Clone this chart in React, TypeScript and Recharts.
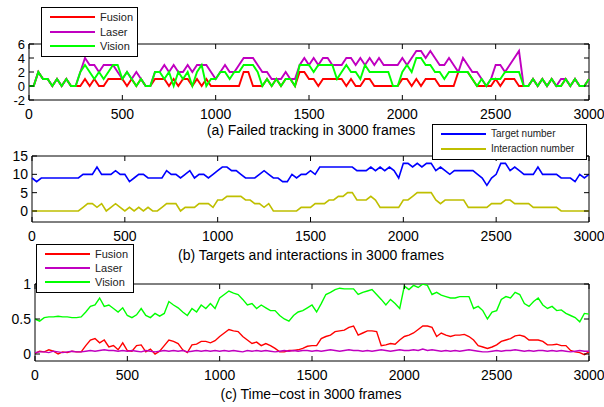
import { LineChart, Line, XAxis, YAxis, ReferenceArea } from 'recharts'

// frame index every 25 frames, 0..3000
const FRAMES = Array.from({ length: 121 }, (_, i) => i * 25)
const X_TICKS = [0, 500, 1000, 1500, 2000, 2500, 3000]

// (a) failed tracking
const failFusion = [
  0, 0, 2, 1, 1, 0, 1, 0, 1, 0,
  0, 0, 1, 0, 1, 0, 0, 1, 1, 1,
  1, 0, 1, 0, 1, 0, 0, 1, 1, 1,
  0, 1, 0, 1, 1, 0, 1, 0, 1, 0,
  0, 0, 0, 0, 0, 0, 2, 2, 0, 0,
  0, 1, 0, 1, 0, 1, 1, 0, 2, 2,
  1, 1, 0, 1, 1, 1, 1, 1, 0, 1,
  0, 0, 1, 1, 0, 0, 0, 0, 0, 0,
  1, 1, 0, 1, 0, 1, 1, 1, 0, 0,
  0, 0, 2, 2, 2, 1, 0, 0, 0, 0,
  1, 0, 1, 1, 1, 0, 0, 0, 1, 0,
  1, 0, 1, 0, 0, 1, 0, 1, 0, 0,
  1,
]
const failLaser = [
  0, 0, 2, 1, 1, 0, 1, 0, 1, 0,
  0, 2, 4, 3, 3, 2, 3, 3, 3, 2,
  1, 2, 1, 2, 1, 0, 0, 2, 2, 3,
  2, 3, 2, 2, 3, 2, 3, 3, 3, 2,
  1, 2, 3, 2, 2, 3, 4, 4, 4, 3,
  2, 2, 1, 1, 1, 2, 1, 1, 3, 4,
  3, 4, 3, 4, 4, 3, 3, 3, 4, 4,
  3, 4, 3, 4, 3, 4, 3, 3, 3, 3,
  4, 3, 4, 5, 5, 4, 5, 4, 3, 3,
  4, 3, 2, 4, 3, 2, 2, 1, 0, 1,
  3, 3, 2, 3, 4, 5, 0, 0, 1, 0,
  1, 0, 1, 0, 1, 1, 0, 1, 0, 0,
  1,
]
const failVision = [
  0, 0, 2, 1, 1, 0, 1, 0, 1, 0,
  0, 2, 3, 2, 1, 2, 1, 2, 3, 3,
  1, 2, 1, 0, 1, 0, 0, 2, 2, 1,
  2, 0, 2, 1, 2, 0, 2, 3, 0, 1,
  1, 2, 2, 1, 2, 2, 3, 3, 3, 2,
  0, 1, 0, 1, 0, 1, 1, 0, 3, 3,
  3, 2, 3, 3, 3, 3, 1, 2, 3, 2,
  2, 1, 3, 2, 2, 2, 2, 2, 0, 0,
  2, 3, 2, 4, 4, 3, 3, 2, 2, 1,
  2, 2, 2, 2, 2, 1, 0, 1, 0, 1,
  1, 1, 2, 2, 2, 2, 0, 0, 1, 0,
  1, 0, 1, 0, 0, 1, 0, 1, 0, 0,
  1,
]

// (b) targets and interactions
const targetCount = [
  9, 8, 9, 9, 9, 9, 9, 9, 9, 9,
  9, 10, 10, 10, 12, 10, 10, 10, 11, 10,
  10, 8, 9, 10, 10, 9, 9, 9, 9, 11,
  10, 10, 9, 10, 11, 9, 10, 10, 9, 10,
  11, 12, 12, 11, 11, 10, 9, 9, 9, 10,
  11, 10, 9, 9, 8, 8, 10, 9, 10, 10,
  11, 10, 12, 12, 12, 12, 12, 12, 12, 12,
  11, 11, 11, 12, 11, 12, 11, 12, 11, 9,
  13, 13, 12, 13, 12, 13, 13, 11, 12, 11,
  10, 11, 11, 11, 11, 11, 10, 9, 7, 9,
  10, 13, 13, 11, 12, 11, 10, 10, 10, 12,
  10, 10, 10, 10, 9, 9, 9, 8, 10, 9,
  10,
]
const interactionCount = [
  0, 0, 0, 0, 0, 0, 0, 0, 0, 0,
  0, 1, 2, 2, 1, 2, 0, 1, 2, 1,
  0, 1, 0, 1, 0, 1, 0, 0, 1, 2,
  2, 2, 0, 1, 1, 1, 2, 2, 2, 1,
  3, 3, 4, 4, 4, 4, 3, 3, 2, 2,
  1, 2, 0, 0, 0, 0, 0, 0, 1, 1,
  1, 2, 2, 2, 3, 3, 4, 4, 5, 5,
  3, 3, 3, 4, 3, 1, 1, 1, 1, 1,
  3, 3, 4, 5, 5, 5, 5, 3, 2, 3,
  3, 3, 3, 3, 1, 1, 1, 1, 1, 2,
  2, 2, 3, 3, 2, 2, 2, 2, 1, 1,
  1, 1, 1, 1, 0, 0, 0, 0, 0, 0,
  0,
]

// (c) time cost
const costFusion = [
  0.01, 0.04, 0.03, 0.06, 0.04, 0, 0.03, 0.02, 0.04, 0.03,
  0.03, 0.12, 0.2, 0.22, 0.16, 0.2, 0.1, 0.12, 0.06, 0.16,
  0.05, 0.04, 0.12, 0.13, 0.03, 0.07, 0, 0.04, 0.12, 0.2,
  0.18, 0.15, 0.06, 0.02, 0.13, 0.14, 0.18, 0.18, 0.16, 0.19,
  0.25, 0.3, 0.35, 0.33, 0.32, 0.25, 0.2, 0.15, 0.17, 0.12,
  0.15, 0.12, 0.08, 0.03, 0.03, 0.05, 0.05, 0.06, 0.08, 0.11,
  0.12, 0.12, 0.22, 0.25, 0.27, 0.32, 0.33, 0.34, 0.38, 0.4,
  0.27, 0.3, 0.33, 0.33, 0.32, 0.12, 0.13, 0.15, 0.14, 0.2,
  0.25, 0.27, 0.3, 0.35, 0.4, 0.4, 0.38, 0.25, 0.3, 0.27,
  0.25, 0.27, 0.27, 0.28, 0.25, 0.2, 0.12, 0.1, 0.08, 0.1,
  0.13, 0.18, 0.2, 0.22, 0.26, 0.27, 0.25, 0.2, 0.2, 0.2,
  0.18, 0.13, 0.13, 0.14, 0.12, 0.12, 0.05, 0.03, 0.02, -0.01,
  0.03,
]
const costLaser = [
  0.02, 0.03, 0.03, 0.02, 0.04, 0.03, 0.02, 0.03, 0.04, 0.03,
  0.03, 0.04, 0.05, 0.04, 0.05, 0.06, 0.05, 0.05, 0.04, 0.05,
  0.04, 0.05, 0.04, 0.03, 0.05, 0.04, 0.03, 0.04, 0.05, 0.04,
  0.05, 0.04, 0.05, 0.03, 0.04, 0.05, 0.04, 0.05, 0.04, 0.05,
  0.04, 0.05, 0.04, 0.05, 0.04, 0.03, 0.05, 0.04, 0.05, 0.04,
  0.05, 0.04, 0.03, 0.04, 0.05, 0.04, 0.05, 0.04, 0.05, 0.05,
  0.04, 0.05, 0.04, 0.05, 0.06, 0.05, 0.04, 0.05, 0.06, 0.05,
  0.05, 0.04, 0.05, 0.04, 0.05, 0.06, 0.05, 0.04, 0.05, 0.06,
  0.05, 0.05, 0.06, 0.05, 0.07, 0.05, 0.06, 0.05, 0.04, 0.05,
  0.04, 0.05, 0.04, 0.05, 0.06, 0.05, 0.04, 0.03, 0.03, 0.04,
  0.05, 0.04, 0.05, 0.05, 0.06, 0.05, 0.04, 0.05, 0.04, 0.05,
  0.05, 0.04, 0.05, 0.04, 0.05, 0.04, 0.03, 0.04, 0.05, 0.04,
  0.04,
]
const costVision = [
  0.5, 0.47, 0.52, 0.53, 0.53, 0.54, 0.53, 0.53, 0.52, 0.52,
  0.53, 0.6, 0.68, 0.7, 0.8, 0.68, 0.7, 0.65, 0.6, 0.66,
  0.55, 0.52, 0.56, 0.65, 0.55, 0.52, 0.58, 0.54, 0.58, 0.75,
  0.7, 0.66, 0.6, 0.55, 0.65, 0.6, 0.7, 0.65, 0.72, 0.65,
  0.8, 0.85, 0.9, 0.87, 0.85, 0.78, 0.7, 0.72, 0.65, 0.7,
  0.66, 0.62, 0.62, 0.55, 0.5, 0.47, 0.55, 0.6, 0.62, 0.66,
  0.7, 0.6, 0.72, 0.85, 0.88, 0.92, 0.94, 0.93, 0.93, 0.93,
  0.85, 0.88, 0.9, 0.92, 0.85, 0.78, 0.7, 0.78, 0.72, 0.65,
  0.97, 0.92, 0.98, 0.95, 1.0, 0.98, 0.85, 0.88, 0.84, 0.82,
  0.8, 0.8, 0.82, 0.82, 0.82, 0.65, 0.68, 0.62, 0.5, 0.6,
  0.62, 0.78, 0.82, 0.8, 0.88, 0.85, 0.72, 0.68, 0.75, 0.8,
  0.7, 0.65, 0.68, 0.62, 0.63, 0.58, 0.55, 0.52, 0.46, 0.58,
  0.57,
]

const failData = FRAMES.map((frame, i) => ({
  frame,
  fusion: failFusion[i],
  laser: failLaser[i],
  vision: failVision[i],
}))
const countData = FRAMES.map((frame, i) => ({
  frame,
  target: targetCount[i],
  interaction: interactionCount[i],
}))
const costData = FRAMES.map((frame, i) => ({
  frame,
  fusion: costFusion[i],
  laser: costLaser[i],
  vision: costVision[i],
}))

const W = 604
const H = 407
const PLOT_RIGHT = 589
const FONT = '"Liberation Sans", Arial, Helvetica, sans-serif'

const RED = '#ff0000'
const MAGENTA = '#c000c0'
const GREEN = '#00ff00'
const BLUE = '#0000ff'
const YELLOW = '#bfbf00'

type LineDef = { key: string; color: string }

type PanelProps = {
  data: Record<string, number>[]
  top: number
  bottom: number
  left: number
  yDomain: [number, number]
  yTicks: number[]
  yFontSize?: number
  lines: LineDef[]
  lineWidth: number
}

function Panel({ data, top, bottom, left, yDomain, yTicks, yFontSize = 14, lines, lineWidth }: PanelProps) {
  // matlab style: ticks point inward on both sides of the box
  const XTick = (p: any) => (
    <g>
      <line x1={p.x} x2={p.x} y1={bottom} y2={bottom - 5} stroke="#000" />
      <line x1={p.x} x2={p.x} y1={top} y2={top + 5} stroke="#000" />
      <text x={p.x} y={bottom + 14.5} dy="0.35em" textAnchor="middle" fontSize={14} fill="#000" fontFamily={FONT}>
        {p.payload.value}
      </text>
    </g>
  )
  const YTick = (p: any) => (
    <g>
      <line x1={left} x2={left + 5} y1={p.y} y2={p.y} stroke="#000" />
      <line x1={PLOT_RIGHT} x2={PLOT_RIGHT - 5} y1={p.y} y2={p.y} stroke="#000" />
      <text x={left - 4} y={p.y} dy="0.35em" textAnchor="end" fontSize={yFontSize} fill="#000" fontFamily={FONT}>
        {p.payload.value}
      </text>
    </g>
  )
  return (
    <div style={{ position: 'absolute', left: 0, top: 0 }}>
      <LineChart
        width={W}
        height={H}
        data={data}
        margin={{ top, right: W - PLOT_RIGHT, bottom: H - bottom - 30, left: 0 }}
      >
        <XAxis
          dataKey="frame"
          type="number"
          domain={[0, 3000]}
          ticks={X_TICKS}
          interval={0}
          axisLine={false}
          tickLine={false}
          tickSize={0}
          height={30}
          tick={XTick}
        />
        <YAxis
          type="number"
          domain={yDomain}
          ticks={yTicks}
          interval={0}
          axisLine={false}
          tickLine={false}
          tickSize={0}
          width={left}
          tick={YTick}
          allowDataOverflow
        />
        <ReferenceArea
          x1={0}
          x2={3000}
          y1={yDomain[0]}
          y2={yDomain[1]}
          fill="none"
          stroke="#000"
          strokeWidth={1}
          ifOverflow="visible"
        />
        {lines.map((l) => (
          <Line
            key={l.key}
            type="linear"
            dataKey={l.key}
            stroke={l.color}
            strokeWidth={lineWidth}
            dot={false}
            isAnimationActive={false}
          />
        ))}
      </LineChart>
    </div>
  )
}

type LegendProps = {
  x: number
  y: number
  w: number
  h: number
  rowY: number[]
  items: { label: string; color: string }[]
  fontSize: number
}

function Legend({ x, y, w, h, rowY, items, fontSize }: LegendProps) {
  return (
    <div
      style={{
        position: 'absolute',
        left: x,
        top: y,
        width: w,
        height: h,
        boxSizing: 'border-box',
        border: '1px solid #000',
        background: '#fff',
        fontFamily: FONT,
        fontSize,
      }}
    >
      {items.map((it, i) => (
        <div key={it.label}>
          <div
            style={{
              position: 'absolute',
              left: 8,
              top: rowY[i] - 1,
              width: 45,
              height: 2,
              background: it.color,
            }}
          />
          <div
            style={{
              position: 'absolute',
              left: 58,
              top: rowY[i] - 7,
              lineHeight: '14px',
              whiteSpace: 'nowrap',
              color: '#222',
            }}
          >
            {it.label}
          </div>
        </div>
      ))}
    </div>
  )
}

function Title({ text, y }: { text: string; y: number }) {
  return (
    <div
      style={{
        position: 'absolute',
        left: 311,
        top: y - 8,
        transform: 'translateX(-50%)',
        whiteSpace: 'nowrap',
        fontFamily: FONT,
        fontSize: 14,
        lineHeight: '16px',
        color: '#000',
      }}
    >
      {text}
    </div>
  )
}

export default function App() {
  return (
    <div style={{ position: 'absolute', left: 0, top: 0, width: W, height: H, background: '#fff', overflow: 'hidden' }}>
      <Panel
        data={failData}
        top={44}
        bottom={100}
        left={29}
        yDomain={[-2, 6]}
        yTicks={[-2, 0, 2, 4, 6]}
        yFontSize={13}
        lineWidth={1.9}
        lines={[
          { key: 'fusion', color: RED },
          { key: 'laser', color: MAGENTA },
          { key: 'vision', color: GREEN },
        ]}
      />
      <Panel
        data={countData}
        top={156}
        bottom={222}
        left={32}
        yDomain={[-3, 15]}
        yTicks={[0, 5, 10, 15]}
        lineWidth={1.6}
        lines={[
          { key: 'target', color: BLUE },
          { key: 'interaction', color: YELLOW },
        ]}
      />
      <Panel
        data={costData}
        top={284}
        bottom={361}
        left={35}
        yDomain={[-0.1, 1]}
        yTicks={[0, 0.5, 1]}
        lineWidth={1.4}
        lines={[
          { key: 'fusion', color: RED },
          { key: 'laser', color: MAGENTA },
          { key: 'vision', color: GREEN },
        ]}
      />

      <Title text="(a) Failed tracking in 3000 frames" y={130} />
      <Title text="(b) Targets and interactions in 3000 frames" y={255} />
      <Title text="(c) Time−cost in 3000 frames" y={394} />

      <Legend
        x={41}
        y={7}
        w={97}
        h={50}
        rowY={[9, 24, 38]}
        fontSize={11}
        items={[
          { label: 'Fusion', color: RED },
          { label: 'Laser', color: MAGENTA },
          { label: 'Vision', color: GREEN },
        ]}
      />
      <Legend
        x={432}
        y={124}
        w={155}
        h={36}
        rowY={[9, 24]}
        fontSize={10}
        items={[
          { label: 'Target number', color: BLUE },
          { label: 'Interaction number', color: YELLOW },
        ]}
      />
      <Legend
        x={36}
        y={244}
        w={98}
        h={49}
        rowY={[9, 23, 37]}
        fontSize={11}
        items={[
          { label: 'Fusion', color: RED },
          { label: 'Laser', color: MAGENTA },
          { label: 'Vision', color: GREEN },
        ]}
      />
    </div>
  )
}
